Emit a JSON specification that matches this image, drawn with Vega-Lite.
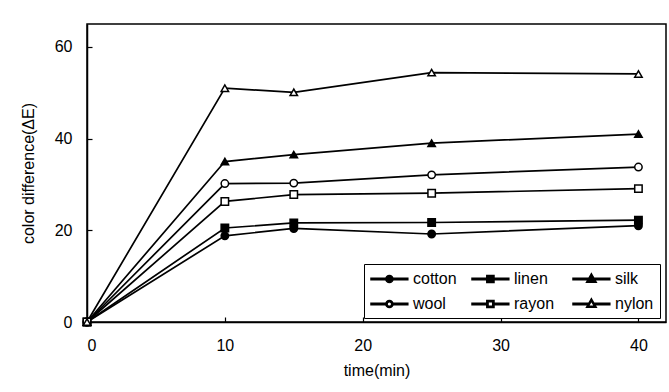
{
  "$schema": "https://vega.github.io/schema/vega-lite/v6.json",
  "width": 579,
  "height": 298,
  "autosize": {"type": "none"},
  "padding": {"left": 87, "top": 24, "right": 3, "bottom": 70},
  "background": "white",
  "config": {
    "font": "Liberation Sans",
    "view": {"stroke": "black", "strokeWidth": 1.5},
    "axis": {
      "grid": false,
      "domainColor": "black",
      "domainWidth": 1.5,
      "tickColor": "black",
      "tickWidth": 1.2,
      "labelColor": "black",
      "titleColor": "black",
      "labelFont": "Liberation Sans",
      "titleFont": "Liberation Sans",
      "labelFontSize": 16,
      "titleFontSize": 16,
      "titleFontWeight": "normal"
    }
  },
  "data": {
    "values": [
      {"fiber": "cotton", "time": 0, "dE": 0},
      {"fiber": "cotton", "time": 10, "dE": 18.8},
      {"fiber": "cotton", "time": 15, "dE": 20.4},
      {"fiber": "cotton", "time": 25, "dE": 19.2},
      {"fiber": "cotton", "time": 40, "dE": 21.0},
      {"fiber": "linen", "time": 0, "dE": 0},
      {"fiber": "linen", "time": 10, "dE": 20.5},
      {"fiber": "linen", "time": 15, "dE": 21.6},
      {"fiber": "linen", "time": 25, "dE": 21.7},
      {"fiber": "linen", "time": 40, "dE": 22.2},
      {"fiber": "silk", "time": 0, "dE": 0},
      {"fiber": "silk", "time": 10, "dE": 35.0},
      {"fiber": "silk", "time": 15, "dE": 36.5},
      {"fiber": "silk", "time": 25, "dE": 39.0},
      {"fiber": "silk", "time": 40, "dE": 41.0},
      {"fiber": "wool", "time": 0, "dE": 0},
      {"fiber": "wool", "time": 10, "dE": 30.2},
      {"fiber": "wool", "time": 15, "dE": 30.3},
      {"fiber": "wool", "time": 25, "dE": 32.1},
      {"fiber": "wool", "time": 40, "dE": 33.8},
      {"fiber": "rayon", "time": 0, "dE": 0},
      {"fiber": "rayon", "time": 10, "dE": 26.3},
      {"fiber": "rayon", "time": 15, "dE": 27.8},
      {"fiber": "rayon", "time": 25, "dE": 28.1},
      {"fiber": "rayon", "time": 40, "dE": 29.1},
      {"fiber": "nylon", "time": 0, "dE": 0},
      {"fiber": "nylon", "time": 10, "dE": 51.0},
      {"fiber": "nylon", "time": 15, "dE": 50.1},
      {"fiber": "nylon", "time": 25, "dE": 54.4},
      {"fiber": "nylon", "time": 40, "dE": 54.1}
    ]
  },
  "encoding": {
    "x": {
      "field": "time", "type": "quantitative",
      "scale": {"domain": [0, 42], "nice": false},
      "axis": {"values": [0, 10, 20, 30, 40], "title": "time(min)", "tickSize": -5, "labelPadding": 20, "titleX": 289.5, "titleY": 48, "titleBaseline": "middle", "titleAlign": "center"}
    },
    "y": {
      "field": "dE", "type": "quantitative",
      "scale": {"domain": [0, 65], "nice": false},
      "axis": {"values": [0, 20, 40, 60], "title": "color difference(ΔE)", "tickSize": -5, "labelPadding": 20, "titleX": -59, "titleY": 149, "titleAngle": -90, "titleBaseline": "middle", "titleAlign": "center"}
    }
  },
  "layer": [
    {
      "mark": {"type": "line", "color": "black", "strokeWidth": 1.7},
      "encoding": {"detail": {"field": "fiber"}}
    },
    {
      "mark": {"type": "point", "filled": false, "opacity": 1, "stroke": "black", "strokeWidth": 1.5, "size": 55},
      "encoding": {
        "shape": {
          "field": "fiber", "type": "nominal",
          "scale": {"domain": ["cotton", "linen", "silk", "wool", "rayon", "nylon"], "range": ["circle", "square", "triangle-up", "circle", "square", "triangle-up"]},
          "legend": null
        },
        "fill": {
          "field": "fiber", "type": "nominal",
          "scale": {"domain": ["cotton", "linen", "silk", "wool", "rayon", "nylon"], "range": ["black", "black", "black", "white", "white", "white"]},
          "legend": null
        }
      }
    },
    {
      "transform": [{"filter": "false"}],
      "mark": {"type": "point", "filled": false, "opacity": 1, "stroke": "black", "strokeWidth": 1.5},
      "encoding": {
        "shape": {
          "field": "fiber", "type": "nominal",
          "scale": {"domain": ["cotton", "linen", "silk", "wool", "rayon", "nylon"], "range": [
            "M-1,-0.09H3.6V0.09H-1Z M1.75,0A0.45,0.45,0,1,1,0.85,0A0.45,0.45,0,1,1,1.75,0Z",
            "M-1,-0.09H3.6V0.09H-1Z M0.85,-0.45H1.75V0.45H0.85Z",
            "M-1,-0.09H3.6V0.09H-1Z M1.3,-0.65L1.9,0.4H0.7Z",
            "M-1,-0.09H0.92V0.09H-1Z M1.68,-0.09H3.6V0.09H1.68Z M1.75,0A0.45,0.45,0,1,1,0.85,0A0.45,0.45,0,1,1,1.75,0Z M1.59,0A0.29,0.29,0,1,0,1.01,0A0.29,0.29,0,1,0,1.59,0Z",
            "M-1,-0.09H0.92V0.09H-1Z M1.68,-0.09H3.6V0.09H1.68Z M0.85,-0.45H1.75V0.45H0.85Z M1.01,-0.29V0.29H1.59V-0.29Z",
            "M-1,-0.09H1.01V0.09H-1Z M1.59,-0.09H3.6V0.09H1.59Z M1.3,-0.65L1.9,0.4H0.7Z M1.3,-0.387L0.924,0.27H1.676Z"
          ]},
          "legend": {
            "title": null,
            "orient": "none",
            "legendX": 277,
            "legendY": 240,
            "columns": 3,
            "direction": "horizontal",
            "gridAlign": "all",
            "strokeColor": "black",
            "fillColor": "white",
            "padding": 6,
            "rowPadding": 8,
            "columnPadding": 12,
            "symbolSize": 256,
            "labelFontSize": 16,
            "labelColor": "black",
            "labelOffset": 25,
            "labelFont": "Liberation Sans"
          }
        },
        "fill": {
          "field": "fiber", "type": "nominal",
          "scale": {"domain": ["cotton", "linen", "silk", "wool", "rayon", "nylon"], "range": ["black", "black", "black", "white", "white", "white"]},
          "legend": null
        }
      }
    }
  ],
  "resolve": {"scale": {"shape": "independent"}, "legend": {"shape": "independent"}}
}
